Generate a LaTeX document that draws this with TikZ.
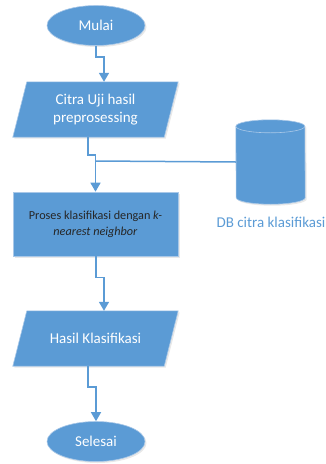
\documentclass[tikz,border=0pt]{standalone}
\usepackage{fontspec}
\setmainfont{Carlito}
\usetikzlibrary{arrows.meta,backgrounds,shadows,shapes.geometric}
\definecolor{fcblue}{HTML}{5B9BD5}
\definecolor{fcedge}{HTML}{A9C8E8}
\tikzset{
  shp/.style={fill=fcblue, draw=fcedge, line width=0.6pt, drop shadow={opacity=0.18, shadow xshift=1.5pt, shadow yshift=-1.5pt}},
  term/.style={ellipse, shp, minimum width=98pt, minimum height=40pt, inner sep=0pt, text=white, font=\fontsize{15}{18}\selectfont},
  parabox/.style={rectangle, minimum width=165pt, minimum height=55pt, inner sep=0pt, text=white, align=center, font=\fontsize{15}{18}\selectfont},
  procbox/.style={rectangle, shp, minimum width=165pt, minimum height=64pt, inner sep=0pt, text=black!85, align=center, font=\fontsize{12.2}{16}\selectfont},
  conn/.style={draw=fcblue, line width=1.5pt},
  flow/.style={conn, -{Triangle[width=10pt,length=9pt]}},
}
\begin{document}
\begin{tikzpicture}[x=1pt,y=-1pt]
\useasboundingbox (0,0) rectangle (326,464);
% nodes
\node[term] (mulai) at (96,25.5) {Mulai};
\node[parabox] (p1) at (95.5,109.5) {Citra Uji hasil\\preprosessing};
\node[procbox] (proc) at (95.5,224) {Proses klasifikasi dengan \textit{k-}\\\textit{nearest neighbor}};
\node[parabox] (p2) at (95.5,338.5) {Hasil Klasifikasi};
\node[term] (selesai) at (96,441.5) {Selesai};
\node[rectangle, minimum width=69pt, minimum height=84pt, inner sep=0pt] (db) at (270.5,162) {};
\node[text=fcblue, font=\fontsize{15}{18}\selectfont] (dblabel) at (271,222) {DB citra klasifikasi};
\begin{scope}[on background layer]
  \path[shp] ([xshift=14pt]p1.north west) -- (p1.north east) -- ([xshift=-14pt]p1.south east) -- (p1.south west) -- cycle;
  \path[shp] ([xshift=14pt]p2.north west) -- (p2.north east) -- ([xshift=-14pt]p2.south east) -- (p2.south west) -- cycle;
  \path[shp] ([yshift=-6.5pt]db.north west) arc[start angle=180, end angle=0, x radius=34.5pt, y radius=6.5pt]
     -- ([yshift=6.5pt]db.south east) arc[start angle=0, end angle=-180, x radius=34.5pt, y radius=6.5pt] -- cycle;
  \draw[fcedge, line width=0.6pt] ([yshift=-6.5pt]db.north west) arc[start angle=180, end angle=360, x radius=34.5pt, y radius=6.5pt];
\end{scope}
% connectors
\coordinate (j1) at (95.5,161);
\draw[flow] (mulai.south) -- ++(0,11) -| ([xshift=8.5pt]p1.north);
\draw[flow] ([xshift=-7.5pt]p1.south) -- ++(0,18) -| (proc.north);
\draw[conn] (db.west) -- (j1);
\draw[flow] ([xshift=0.5pt]proc.south) -- ++(0,21) -| ([xshift=8.5pt]p2.north);
\draw[flow] ([xshift=-7.5pt]p2.south) -- ++(0,21) -| (selesai.north);
\end{tikzpicture}
\end{document}
